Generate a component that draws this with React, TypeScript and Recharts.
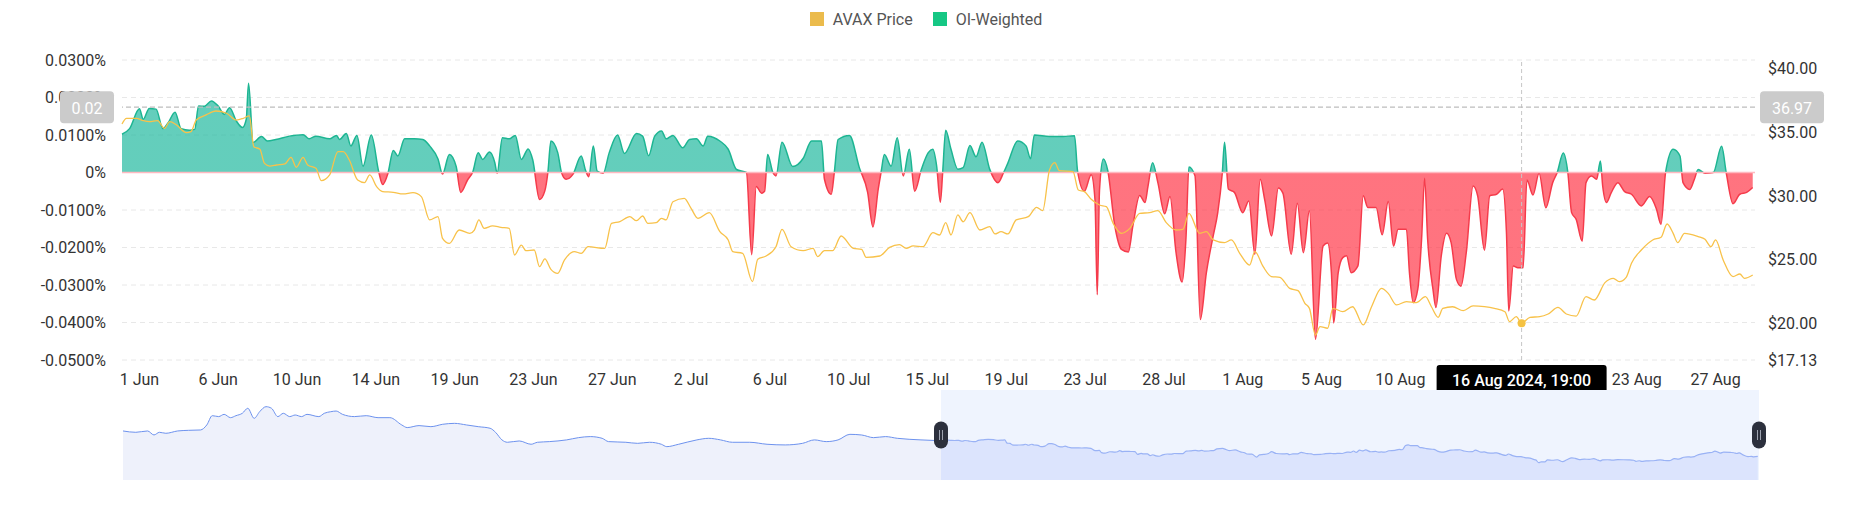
import {
  Area,
  CartesianGrid,
  ComposedChart,
  Legend,
  Line,
  ReferenceArea,
  ReferenceDot,
  ReferenceLine,
  XAxis,
  YAxis,
} from "recharts";

// hours counted from 31 May 2024 20:00, funding rate in %
const fundingPoints: [number, number][] = [
  [0, 0.0102], [10, 0.0117], [23, 0.017], [28, 0.0142], [36, 0.0171], [45, 0.0169], [54, 0.0117],
  [61, 0.0133], [70, 0.0161], [78, 0.0117], [89, 0.0113], [96, 0.0115], [101, 0.0177], [109, 0.0177],
  [118, 0.0191], [127, 0.0177], [135, 0.0155], [142, 0.0173], [151, 0.0137], [159, 0.012], [164, 0.0142],
  [167, 0.0238], [173, 0.008], [184, 0.0096], [192, 0.0084], [203, 0.0088], [221, 0.0097], [239, 0.0101],
  [247, 0.009], [256, 0.0097], [274, 0.009], [283, 0.0099], [287, 0.0088], [296, 0.0104], [302, 0.0071],
  [310, 0.0099], [318, 0.0017], [329, 0.01], [339, 0.0], [344, -0.0032], [351, -0.0002], [358, 0.0059],
  [364, 0.0044], [373, 0.009], [386, 0.009], [397, 0.0088], [406, 0.0071], [417, 0.0036], [423, -0.0004],
  [432, 0.0048], [441, 0.0016], [447, -0.0053], [456, -0.002], [463, 0.0002], [470, 0.0053], [476, 0.0035],
  [485, 0.0055], [492, 0.0026], [495, -0.0002], [502, 0.0093], [511, 0.009], [519, 0.0099], [527, 0.0035],
  [536, 0.0063], [542, 0.0034], [551, -0.0072], [558, -0.0049], [562, 0.0], [566, 0.0084], [575, 0.0053],
  [580, 0.0], [586, -0.0018], [595, -0.0005], [606, 0.0044], [612, 0.0004], [616, -0.0011], [622, 0.0071],
  [627, 0.0004], [635, -0.0002], [643, 0.0053], [654, 0.01], [663, 0.0051], [679, 0.0104], [687, 0.0097],
  [695, 0.0045], [703, 0.0097], [712, 0.0111], [718, 0.009], [727, 0.0099], [740, 0.0066], [749, 0.0088],
  [758, 0.009], [767, 0.0071], [773, 0.0097], [789, 0.0084], [800, 0.0062], [811, 0.0008], [824, 0.0],
  [831, -0.0219], [837, -0.0037], [844, -0.0055], [848, -0.005], [852, 0.0048], [859, 0.0], [863, -0.0009],
  [871, 0.0081], [885, 0.0016], [899, 0.0038], [910, 0.0084], [923, 0.0084], [927, -0.0018], [936, -0.0058],
  [940, 0.0], [945, 0.0088], [960, 0.0099], [973, 0.0013], [984, -0.0053], [991, -0.0145], [998, -0.0044],
  [1002, 0.0004], [1006, 0.0048], [1015, 0.0017], [1023, 0.0093], [1031, -0.0009], [1039, 0.0062],
  [1046, -0.005], [1055, 0.0009], [1064, 0.0053], [1070, 0.0062], [1075, 0.0018], [1080, -0.0079],
  [1083, 0.0], [1087, 0.0113], [1094, 0.0062], [1103, 0.0009], [1110, 0.0013], [1119, 0.0072],
  [1127, 0.0042], [1135, 0.0081], [1145, 0.0009], [1156, -0.0027], [1163, -0.0002], [1169, 0.0025],
  [1182, 0.0084], [1193, 0.0071], [1199, 0.0037], [1204, 0.01], [1224, 0.0096], [1242, 0.0096],
  [1257, 0.0098], [1261, 0.0004], [1270, -0.005], [1279, -0.0006], [1284, -0.0072], [1287, -0.0326],
  [1290, -0.0046], [1295, 0.0036], [1301, 0.0004], [1310, -0.014], [1319, -0.0205], [1328, -0.0212],
  [1334, -0.0142], [1343, -0.0061], [1350, -0.008], [1354, -0.0036], [1360, 0.0026], [1367, -0.0027],
  [1376, -0.011], [1383, -0.0064], [1391, -0.0214], [1399, -0.0292], [1404, -0.0178], [1408, 0.0015],
  [1416, -0.0009], [1423, -0.0392], [1431, -0.0267], [1440, -0.0169], [1446, -0.0107], [1452, -0.0002],
  [1455, 0.0081], [1460, -0.0044], [1468, -0.0053], [1479, -0.0107], [1487, -0.0076], [1495, -0.0218],
  [1502, -0.0018], [1508, -0.0073], [1517, -0.0169], [1526, -0.0041], [1532, -0.0055], [1543, -0.0218],
  [1551, -0.0082], [1559, -0.0214], [1567, -0.0102], [1575, -0.0445], [1585, -0.0196], [1591, -0.0188],
  [1596, -0.0267], [1599, -0.0401], [1605, -0.0267], [1611, -0.0227], [1616, -0.0222], [1622, -0.0267],
  [1631, -0.0249], [1638, -0.0062], [1644, -0.0093], [1655, -0.0093], [1663, -0.0166], [1671, -0.0077],
  [1678, -0.0196], [1684, -0.0151], [1695, -0.0151], [1699, -0.0267], [1704, -0.0347], [1710, -0.0311],
  [1715, -0.0178], [1719, -0.0015], [1723, -0.0178], [1730, -0.0311], [1734, -0.036], [1741, -0.0222],
  [1748, -0.0162], [1754, -0.0187], [1761, -0.0285], [1767, -0.0303], [1774, -0.0213], [1783, -0.0036],
  [1789, -0.0062], [1798, -0.0207], [1805, -0.0062], [1814, -0.0058], [1822, -0.0044], [1827, -0.016],
  [1830, -0.0369], [1836, -0.0249], [1842, -0.0254], [1849, -0.0254], [1854, -0.002], [1862, -0.006],
  [1870, -0.0002], [1879, -0.0094], [1888, -0.0027], [1894, 0.0], [1902, 0.0052], [1908, 0.0],
  [1913, -0.0107], [1919, -0.0125], [1927, -0.0183], [1932, -0.0027], [1939, -0.0009], [1946, -0.0018],
  [1951, 0.0031], [1954, -0.0036], [1959, -0.008], [1965, -0.0055], [1974, -0.0027], [1983, -0.0051],
  [1992, -0.0058], [2005, -0.0089], [2016, -0.0064], [2025, -0.0098], [2031, -0.0138], [2037, 0.0],
  [2047, 0.0062], [2056, 0.0044], [2060, -0.0027], [2069, -0.0045], [2075, -0.0018], [2080, 0.0008],
  [2089, -0.0002], [2100, 0.0], [2111, 0.007], [2117, 0.0], [2126, -0.0083], [2135, -0.0058],
  [2144, -0.0053], [2152, -0.004],
];

// AVAX price in USD, same hour scale
const pricePoints: [number, number][] = [
  [0, 35.65], [6, 36.09], [19, 36.09], [28, 35.91], [36, 35.83], [47, 35.91], [56, 35.31], [63, 35.83],
  [72, 35.57], [85, 34.97], [91, 35.05], [98, 35.96], [111, 36.36], [124, 36.67], [138, 36.49], [151, 35.96],
  [160, 36.09], [168, 36.28], [174, 33.87], [182, 33.66], [188, 32.56], [195, 32.35], [204, 32.43],
  [215, 32.51], [223, 33.03], [230, 32.25], [239, 33.03], [245, 32.43], [256, 32.17], [263, 31.2],
  [274, 31.65], [285, 33.48], [292, 33.48], [300, 32.82], [311, 31.25], [320, 31.05], [327, 31.65],
  [336, 30.73], [344, 30.34], [358, 30.29], [371, 30.16], [384, 30.26], [395, 29.95], [406, 28.12],
  [417, 28.38], [423, 26.68], [432, 26.28], [445, 27.33], [459, 27.07], [465, 27.33], [471, 28.12],
  [478, 27.46], [489, 27.65], [500, 27.54], [511, 27.46], [518, 25.37], [527, 26.15], [533, 25.71],
  [544, 25.76], [551, 24.45], [558, 25.06], [566, 24.24], [575, 23.93], [584, 24.98], [597, 25.63],
  [606, 25.5], [615, 26.02], [637, 25.89], [646, 27.85], [657, 27.98], [670, 28.38], [679, 28.06],
  [687, 28.43], [694, 27.85], [705, 27.91], [712, 28.25], [718, 28.12], [727, 29.55], [742, 29.82],
  [751, 29.03], [760, 28.25], [775, 28.69], [789, 27.2], [800, 26.55], [806, 25.63], [819, 25.5],
  [832, 23.28], [839, 25.03], [850, 25.29], [863, 26.02], [871, 27.38], [883, 26.02], [899, 25.71],
  [912, 25.89], [918, 25.24], [927, 25.71], [938, 25.71], [949, 26.86], [965, 25.89], [976, 25.81],
  [982, 25.19], [1000, 25.29], [1013, 25.97], [1026, 26.18], [1035, 25.89], [1044, 26.08], [1057, 26.02],
  [1070, 27.12], [1079, 26.94], [1087, 27.91], [1094, 26.94], [1103, 28.51], [1110, 27.98], [1119, 28.69],
  [1132, 27.33], [1145, 27.59], [1152, 27.02], [1160, 27.2], [1169, 27.02], [1180, 28.12], [1196, 28.38],
  [1207, 29.11], [1215, 28.85], [1224, 32.04], [1231, 32.61], [1237, 31.99], [1255, 31.91], [1262, 30.47],
  [1270, 30.34], [1279, 29.74], [1290, 29.29], [1299, 29.16], [1308, 27.85], [1319, 27.07], [1330, 27.46],
  [1343, 28.64], [1356, 28.69], [1367, 28.85], [1378, 27.91], [1391, 27.33], [1400, 27.38], [1408, 28.64],
  [1422, 27.07], [1431, 27.2], [1440, 26.55], [1455, 26.34], [1464, 26.55], [1475, 25.5], [1488, 24.58],
  [1495, 25.63], [1506, 24.45], [1517, 23.67], [1528, 23.62], [1541, 22.75], [1552, 22.57], [1561, 21.58],
  [1567, 21.18], [1575, 19.09], [1581, 19.75], [1591, 19.62], [1598, 21.18], [1611, 20.92], [1624, 21.31],
  [1638, 19.88], [1649, 21.31], [1662, 22.75], [1671, 22.36], [1682, 21.45], [1695, 21.71], [1708, 21.63],
  [1720, 22.1], [1728, 21.31], [1737, 20.48], [1743, 21.18], [1756, 21.31], [1770, 21.0], [1783, 21.37],
  [1798, 21.31], [1811, 21.18], [1825, 20.92], [1831, 20.14], [1840, 20.53], [1847, 20.01], [1858, 20.48],
  [1871, 20.53], [1882, 20.74], [1895, 21.26], [1906, 20.74], [1919, 20.58], [1932, 22.1], [1943, 21.84],
  [1957, 23.2], [1968, 23.54], [1976, 23.28], [1985, 23.62], [1992, 24.72], [2005, 25.76], [2020, 26.55],
  [2031, 26.76], [2039, 27.8], [2047, 27.07], [2053, 26.34], [2062, 27.07], [2080, 26.81], [2089, 26.6],
  [2097, 26.02], [2103, 26.55], [2113, 24.98], [2126, 23.67], [2135, 23.88], [2141, 23.54], [2152, 23.8],
];

// price history before the visible window (days before the first point), shown in the range slider
const earlyPricePoints: [number, number][] = [
  [-89.8, 43.05], [-88.4, 42.04], [-87.1, 43.05], [-86.4, 40.03], [-85.8, 42.04], [-85.1, 41.29],
  [-83.8, 43.05], [-82.6, 43.54], [-81.3, 43.8], [-80.6, 47.6], [-80.0, 54.6], [-79.3, 53.9], [-78.7, 55.6],
  [-78.0, 53.1], [-77.4, 54.6], [-76.7, 56.4], [-76.1, 60.2], [-75.4, 52.6], [-74.8, 57.6], [-74.1, 61.4],
  [-73.5, 60.2], [-72.8, 53.9], [-72.2, 56.4], [-71.5, 53.9], [-70.9, 55.1], [-70.2, 53.9], [-69.6, 55.6],
  [-68.3, 53.9], [-67.7, 56.4], [-67.0, 57.6], [-66.4, 58.1], [-65.7, 55.6], [-64.4, 53.9], [-63.1, 54.6],
  [-61.8, 53.1], [-60.5, 53.1], [-59.2, 47.6], [-58.6, 45.6], [-57.3, 47.1], [-56.0, 46.3], [-54.7, 48.1],
  [-53.4, 48.8], [-52.1, 47.6], [-50.8, 46.3], [-49.5, 45.1], [-48.9, 42.0], [-48.2, 36.3], [-47.6, 34.5],
  [-46.3, 35.5], [-45.0, 33.0], [-44.3, 34.5], [-43.0, 35.0], [-41.1, 36.3], [-39.8, 38.0], [-38.5, 38.8],
  [-37.2, 37.5], [-36.5, 35.0], [-34.6, 34.5], [-33.3, 33.7], [-32.0, 34.5], [-30.7, 33.0], [-30.1, 31.2],
  [-28.8, 33.0], [-26.8, 36.3], [-25.5, 37.5], [-24.2, 36.3], [-22.9, 34.5], [-21.0, 34.5], [-19.1, 33.0],
  [-17.1, 32.5], [-15.2, 33.7], [-13.9, 36.3], [-12.6, 35.0], [-11.3, 36.3], [-10.0, 40.5], [-8.7, 40.0],
  [-7.4, 38.0], [-6.1, 38.8], [-4.8, 37.5], [-2.2, 36.3],
];

const tickHours = [23, 127, 231, 335, 439, 543, 647, 751, 855, 959, 1063, 1167, 1271, 1375, 1479, 1583, 1687, 1791, 1895, 1999, 2103];
const tickLabels = [
  "1 Jun", "6 Jun", "10 Jun", "14 Jun", "19 Jun", "23 Jun", "27 Jun", "2 Jul", "6 Jul", "10 Jul", "15 Jul",
  "19 Jul", "23 Jul", "28 Jul", "1 Aug", "5 Aug", "10 Aug", "14 Aug", "18 Aug", "23 Aug", "27 Aug",
];
const rateTicks = [-0.05, -0.04, -0.03, -0.02, -0.01, 0, 0.01, 0.02, 0.03];
const priceTicks = [17.13, 20, 25, 30, 35, 40];

const legendNames = ["AVAX Price", "OI-Weighted"];
const legendColors = ["#ebbb4c", "#16c784"];

const cursorHour = 1847;
const cursorDate = "16 Aug 2024, 19:00";
const cursorPrice = 36.97;
const cursorRate = "0.02";

const hourEnd = 2155;
const rateDomain = [-0.05, 0.03];
const priceDomain = [17.13, 40.67];

const rowMap = new Map<number, { h: number; funding?: number; price?: number }>();
fundingPoints.forEach(([h, v]) => rowMap.set(h, { ...(rowMap.get(h) || { h }), funding: v }));
pricePoints.forEach(([h, v]) => rowMap.set(h, { ...(rowMap.get(h) || { h }), price: v }));
const rows = [...rowMap.values()].sort((a, b) => a.h - b.h);

const brushRows = [
  ...earlyPricePoints.map(([d, p]) => ({ d, early: p })),
  { d: 0, early: pricePoints[0][1], sel: pricePoints[0][1] },
  ...pricePoints.slice(1).map(([h, p]) => ({ d: h / 24, sel: p })),
];

const rates = fundingPoints.map((p) => p[1]);
const rateMax = Math.max(...rates);
const rateMin = Math.min(...rates);
const zeroOffset = rateMax / (rateMax - rateMin);
const cursorPoint = pricePoints.find((p) => p[0] === cursorHour);

const tickStyle = { fontSize: 16, fill: "#333" };

function LegendContent() {
  return (
    <div style={{ display: "flex", justifyContent: "center", alignItems: "center", height: 22, gap: 20, fontSize: 16, color: "#555" }}>
      {legendNames.map((name, i) => (
        <span key={name} style={{ display: "flex", alignItems: "center", gap: 9 }}>
          <span style={{ width: 14, height: 14, background: legendColors[i], display: "inline-block" }} />
          {name}
        </span>
      ))}
    </div>
  );
}

function DateBadge(props: any) {
  const vb = props.viewBox;
  const top = vb.y + vb.height + 5;
  return (
    <g>
      <rect x={vb.x - 85} y={top} width={170} height={28} rx={3} fill="#000" />
      <text x={vb.x} y={top + 15} textAnchor="middle" dominantBaseline="central" fill="#fff" fontSize={16} fontWeight={500}>
        {cursorDate}
      </text>
    </g>
  );
}

function ValueBadges(props: any) {
  const vb = props.viewBox;
  const right = vb.x + vb.width;
  return (
    <g>
      <rect x={vb.x - 62} y={vb.y - 16} width={54} height={32} rx={4} fill="#cbcbcb" />
      <text x={vb.x - 35} y={vb.y + 1} textAnchor="middle" dominantBaseline="central" fill="#fff" fontSize={16}>
        {cursorRate}
      </text>
      <rect x={right + 5} y={vb.y - 16} width={64} height={32} rx={4} fill="#cbcbcb" />
      <text x={right + 37} y={vb.y + 1} textAnchor="middle" dominantBaseline="central" fill="#fff" fontSize={16}>
        {cursorPrice.toFixed(2)}
      </text>
    </g>
  );
}

function Handle(props: any) {
  const { cx, cy } = props;
  return (
    <g>
      <rect x={cx - 7} y={cy - 13.5} width={14} height={27} rx={7} fill="#2c303d" />
      <line x1={cx - 1.5} x2={cx - 1.5} y1={cy - 5} y2={cy + 5} stroke="#9ea3b0" strokeWidth={1} />
      <line x1={cx + 1.5} x2={cx + 1.5} y1={cy - 5} y2={cy + 5} stroke="#9ea3b0" strokeWidth={1} />
    </g>
  );
}

export default function App() {
  return (
    <div style={{ width: 1836, fontFamily: "Roboto, sans-serif" }}>
      <div style={{ position: "relative", width: 1836, height: 382 }}>
        <ComposedChart width={1836} height={382} data={rows} margin={{ top: 30, right: 0, bottom: 0, left: 0 }}>
          <defs>
            <linearGradient id="fundFill" x1="0" y1="0" x2="0" y2="1">
              <stop offset={zeroOffset} stopColor="#21b99f" stopOpacity={0.7} />
              <stop offset={zeroOffset} stopColor="#ff3849" stopOpacity={0.7} />
            </linearGradient>
            <linearGradient id="fundStroke" x1="0" y1="0" x2="0" y2="1">
              <stop offset={zeroOffset} stopColor="#1db592" />
              <stop offset={zeroOffset} stopColor="#f53b4b" />
            </linearGradient>
          </defs>
          <Legend verticalAlign="top" align="center" content={<LegendContent />} wrapperStyle={{ top: 0 }} />
          <CartesianGrid yAxisId="left" vertical={false} stroke="#e8e8e8" strokeDasharray="5 4" />
          <XAxis
            type="number"
            dataKey="h"
            domain={[0, hourEnd]}
            ticks={tickHours}
            interval={0}
            tickFormatter={(v: number) => tickLabels[tickHours.indexOf(v)]}
            axisLine={false}
            tickLine={false}
            tickMargin={8}
            height={30}
            tick={tickStyle}
          />
          <YAxis
            yAxisId="left"
            orientation="left"
            width={114}
            domain={rateDomain}
            ticks={rateTicks}
            interval={0}
            tickFormatter={(v: number) => (v === 0 ? "0%" : `${v.toFixed(4)}%`)}
            axisLine={false}
            tickLine={false}
            tickMargin={10}
            tick={tickStyle}
          />
          <YAxis
            yAxisId="right"
            orientation="right"
            width={89}
            domain={priceDomain}
            ticks={priceTicks}
            interval={0}
            tickFormatter={(v: number) => `$${v.toFixed(2)}`}
            axisLine={false}
            tickLine={false}
            tickMargin={7}
            tick={tickStyle}
          />
          <Area
            yAxisId="left"
            type="monotone"
            dataKey="funding"
            name="OI-Weighted"
            baseValue={0}
            connectNulls
            stroke="url(#fundStroke)"
            strokeWidth={1.5}
            fill="url(#fundFill)"
            fillOpacity={1}
            dot={false}
            activeDot={false}
            isAnimationActive={false}
          />
          <ReferenceLine yAxisId="left" y={0} stroke="#ffb9c0" strokeWidth={1.5} />
          <Line
            yAxisId="right"
            type="monotone"
            dataKey="price"
            name="AVAX Price"
            connectNulls
            stroke="#f8c24a"
            strokeWidth={1.3}
            dot={false}
            activeDot={false}
            isAnimationActive={false}
          />
        </ComposedChart>
        {/* crosshair layer, drawn above the axis labels */}
        <div style={{ position: "absolute", top: 0, left: 0 }}>
          <ComposedChart width={1836} height={382} data={rows} margin={{ top: 52, right: 0, bottom: 0, left: 0 }}>
            <XAxis
              type="number"
              dataKey="h"
              domain={[0, hourEnd]}
              allowDataOverflow
              tick={false}
              axisLine={false}
              tickLine={false}
              height={30}
            />
            <YAxis yAxisId="left" width={114} domain={rateDomain} allowDataOverflow tick={false} axisLine={false} tickLine={false} />
            <YAxis
              yAxisId="right"
              orientation="right"
              width={89}
              domain={priceDomain}
              allowDataOverflow
              tick={false}
              axisLine={false}
              tickLine={false}
            />
            <Line
              yAxisId="right"
              dataKey="price"
              connectNulls
              stroke="transparent"
              dot={false}
              activeDot={false}
              isAnimationActive={false}
            />
            <ReferenceLine yAxisId="left" x={cursorHour} stroke="#c6c6c6" strokeDasharray="4 3" label={<DateBadge />} />
            <ReferenceLine yAxisId="right" y={cursorPrice} stroke="#bdbdbd" strokeWidth={1.2} strokeDasharray="5 3" label={<ValueBadges />} />
            {cursorPoint && (
              <ReferenceDot yAxisId="right" x={cursorHour} y={cursorPoint[1]} r={4} fill="#f5c242" stroke="none" />
            )}
          </ComposedChart>
        </div>
      </div>
      <ComposedChart width={1836} height={90} data={brushRows} margin={{ top: 0, right: 85, bottom: 0, left: 115 }}>
        <XAxis type="number" dataKey="d" domain={[-89.8, 89.8]} hide />
        <YAxis domain={[6, 74]} hide />
        <Area
          type="monotone"
          dataKey="early"
          connectNulls
          stroke="#6d92ee"
          strokeWidth={1}
          fill="#eef1fb"
          fillOpacity={1}
          dot={false}
          activeDot={false}
          isAnimationActive={false}
        />
        <Area
          type="monotone"
          dataKey="sel"
          connectNulls
          stroke="#9cb3f5"
          strokeWidth={1.2}
          fill="#e9edfe"
          fillOpacity={1}
          dot={false}
          activeDot={false}
          isAnimationActive={false}
        />
        <ReferenceArea x1={0} x2={89.8} fill="#8fb0f7" fillOpacity={0.14} stroke="none" />
        <ReferenceDot x={0} y={40} shape={Handle} />
        <ReferenceDot x={89.8} y={40} shape={Handle} />
      </ComposedChart>
    </div>
  );
}
